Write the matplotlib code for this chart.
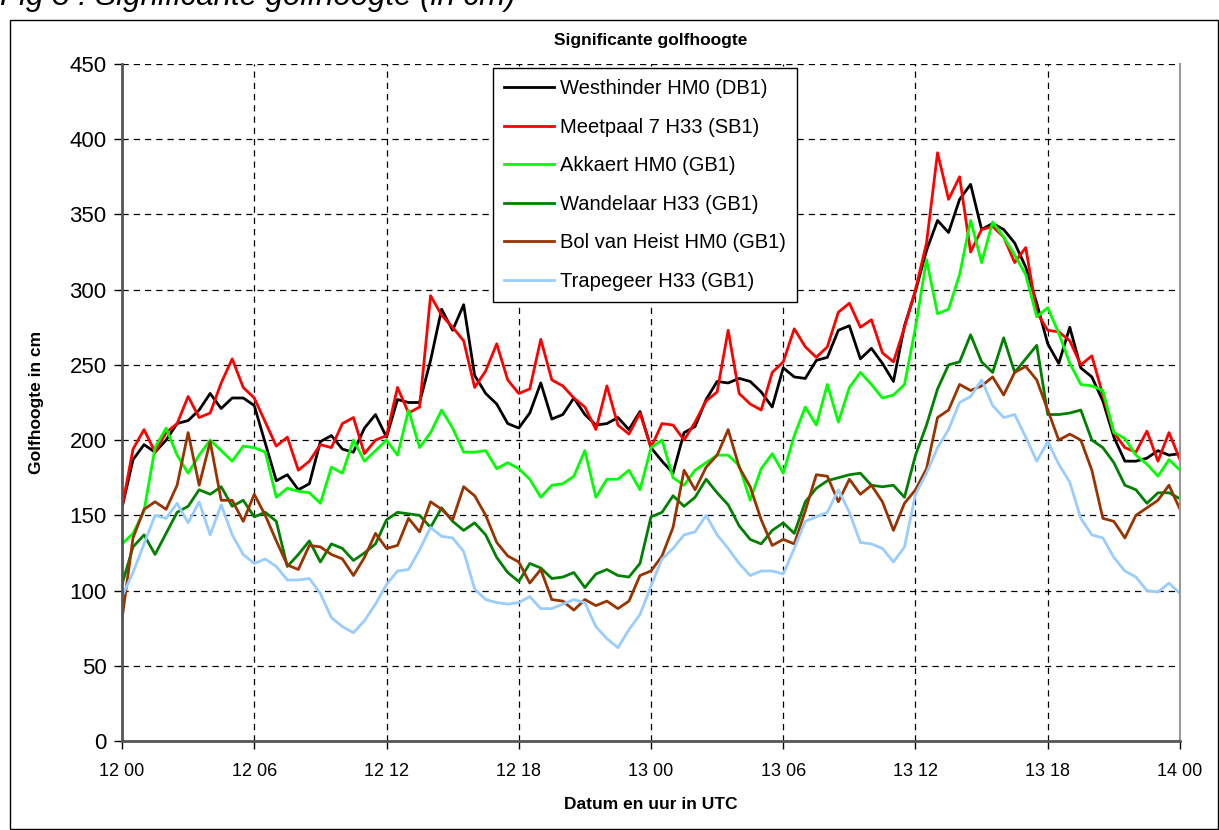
import numpy as np
import matplotlib
matplotlib.use('Agg')
import matplotlib.pyplot as plt
from matplotlib.patches import Rectangle

plt.rcParams['font.family'] = ['Liberation Sans', 'DejaVu Sans']

# half-hourly values (cm), 12 00 .. 14 00
hours = np.arange(0, 48.5, 0.5)

westhinder = [155, 187, 197, 192, 200, 211, 213, 220, 231, 221, 228, 228, 223, 198, 173, 177, 167, 171, 199, 203,
              194, 192, 208, 217, 202, 227, 225, 225, 253, 287, 273, 290, 243, 231, 224, 211, 208, 218, 238, 214,
              217, 228, 217, 210, 211, 215, 207, 219, 195, 186, 178, 205, 209, 227, 239, 238, 241, 239, 232, 222,
              248, 242, 241, 253, 255, 273, 276, 254, 261, 251, 239, 276, 299, 326, 346, 338, 360, 370, 340, 344,
              340, 331, 315, 291, 264, 251, 275, 248, 242, 226, 202, 186, 186, 188, 193, 190, 191]

meetpaal = [155, 194, 207, 192, 205, 211, 229, 215, 218, 238, 254, 235, 228, 212, 196, 202, 180, 186, 197, 195,
            211, 215, 191, 200, 203, 235, 218, 222, 296, 283, 275, 266, 235, 246, 264, 240, 231, 234, 267, 240,
            236, 228, 222, 207, 236, 210, 204, 218, 195, 211, 210, 200, 212, 226, 232, 273, 231, 224, 220, 245,
            252, 274, 262, 255, 262, 285, 291, 275, 280, 258, 252, 275, 300, 331, 391, 360, 375, 325, 340, 342,
            335, 318, 328, 285, 273, 272, 266, 250, 256, 230, 205, 195, 192, 206, 186, 205, 187]

akkaert = [131, 138, 153, 195, 208, 190, 178, 190, 200, 193, 186, 196, 195, 192, 162, 168, 166, 165, 158, 182,
           178, 200, 186, 193, 200, 190, 220, 195, 205, 220, 208, 192, 192, 193, 181, 185, 181, 174, 162, 170,
           171, 176, 193, 162, 174, 174, 180, 167, 195, 200, 175, 170, 180, 185, 190, 190, 183, 160, 181, 191,
           178, 203, 222, 210, 237, 212, 235, 245, 237, 228, 230, 237, 275, 320, 284, 287, 310, 346, 318, 345,
           335, 323, 310, 282, 288, 271, 251, 237, 236, 233, 205, 201, 190, 184, 176, 187, 180]

wandelaar = [104, 129, 137, 124, 138, 152, 156, 167, 164, 169, 156, 160, 149, 152, 146, 116, 124, 133, 119, 131,
             128, 120, 125, 131, 147, 152, 151, 150, 142, 155, 146, 140, 145, 137, 122, 112, 106, 118, 115, 108,
             109, 112, 102, 111, 114, 110, 109, 118, 149, 152, 163, 156, 162, 174, 165, 157, 143, 134, 131, 140,
             145, 138, 159, 168, 173, 175, 177, 178, 170, 169, 170, 162, 190, 210, 234, 250, 252, 270, 252, 245,
             268, 245, 254, 263, 217, 217, 218, 220, 200, 195, 185, 170, 167, 158, 165, 165, 161]

bol_van_heist = [81, 135, 154, 159, 154, 170, 205, 170, 199, 160, 160, 146, 164, 150, 133, 117, 114, 130, 129, 124,
                 121, 110, 122, 138, 128, 130, 148, 139, 159, 154, 147, 169, 163, 150, 132, 123, 119, 105, 114, 94,
                 93, 87, 94, 90, 93, 88, 93, 110, 113, 123, 142, 180, 167, 182, 190, 207, 182, 169, 147, 130,
                 134, 131, 153, 177, 176, 159, 174, 164, 170, 159, 140, 158, 167, 181, 215, 220, 237, 233, 236, 242,
                 230, 245, 249, 240, 220, 200, 204, 200, 180, 148, 146, 135, 150, 155, 160, 170, 154]

trapegeer = [96, 112, 131, 150, 148, 158, 145, 159, 137, 157, 137, 124, 118, 121, 116, 107, 107, 108, 98, 82,
             76, 72, 80, 91, 104, 113, 114, 127, 142, 136, 135, 126, 101, 94, 92, 91, 92, 96, 88, 88,
             91, 94, 92, 76, 68, 62, 74, 84, 103, 121, 128, 137, 139, 150, 137, 128, 118, 110, 113, 113,
             111, 128, 146, 149, 152, 167, 152, 132, 131, 128, 119, 129, 164, 178, 195, 207, 225, 229, 240, 223,
             215, 217, 202, 186, 199, 184, 172, 148, 137, 135, 122, 113, 109, 100, 99, 105, 98]

series = [
    ('Westhinder HM0 (DB1)', westhinder, '#000000'),
    ('Meetpaal 7 H33 (SB1)', meetpaal, '#FF0000'),
    ('Akkaert HM0 (GB1)', akkaert, '#00FF00'),
    ('Wandelaar H33 (GB1)', wandelaar, '#008000'),
    ('Bol van Heist HM0 (GB1)', bol_van_heist, '#993300'),
    ('Trapegeer H33 (GB1)', trapegeer, '#99CCFF'),
]

tick_hours = [0, 6, 12, 18, 24, 30, 36, 42, 48]
tick_labels = ['12 00', '12 06', '12 12', '12 18', '13 00', '13 06', '13 12', '13 18', '14 00']

fig = plt.figure(figsize=(12.19, 8.30), dpi=100)
ax = fig.add_axes([122 / 1219, 1 - 741 / 830, (1180 - 122) / 1219, (741 - 64) / 830])

for label, vals, color in series:
    ax.plot(hours, vals, color=color, linewidth=2.0, label=label)

ax.set_xlim(0, 48)
ax.set_ylim(0, 450)
ax.set_xticks(tick_hours)
ax.set_xticklabels(tick_labels, fontsize=13)
ax.set_yticks(range(0, 451, 50))
ax.tick_params(axis='y', labelsize=16, direction='out', length=6, width=1, pad=5)
ax.tick_params(axis='x', direction='out', length=6, width=1, pad=10)
ax.grid(True, color='black', linestyle=(0, (5, 4)), linewidth=0.9)
ax.set_axisbelow(True)

for side in ['left', 'bottom']:
    ax.spines[side].set_color('#555555')
    ax.spines[side].set_linewidth(2)
ax.spines['right'].set_color('#999999')
ax.spines['right'].set_linewidth(1.5)
ax.spines['top'].set_visible(False)

ax.set_title('Significante golfhoogte', fontsize=12.5, fontweight='bold', pad=14)
ax.set_xlabel('Datum en uur in UTC', fontsize=12.5, fontweight='bold', labelpad=12)
ax.set_ylabel('Golfhoogte in cm', fontsize=12.5, fontweight='bold', labelpad=18)

leg = ax.legend(loc='upper left', bbox_to_anchor=((493 - 122) / 1058, (741 - 68) / 677),
                fontsize=14.5, frameon=True, fancybox=False, framealpha=1, edgecolor='black',
                handlelength=2.5, handletextpad=0.3, labelspacing=0.97, borderpad=0.55,
                borderaxespad=0)
leg.get_frame().set_linewidth(1)

# outer frame of the chart and the clipped caption above it
fig.patches.append(Rectangle((10 / 1219, 1 / 830), 1 - 11 / 1219, 1 - 21 / 830,
                             transform=fig.transFigure, fill=False, edgecolor='black', linewidth=1))
fig.text(0.0, 1 - 5 / 830, 'Fig 3 : Significante golfhoogte (in cm)', fontsize=22.5, style='italic',
         va='baseline', ha='left')

fig.savefig('out.png', dpi=100)
